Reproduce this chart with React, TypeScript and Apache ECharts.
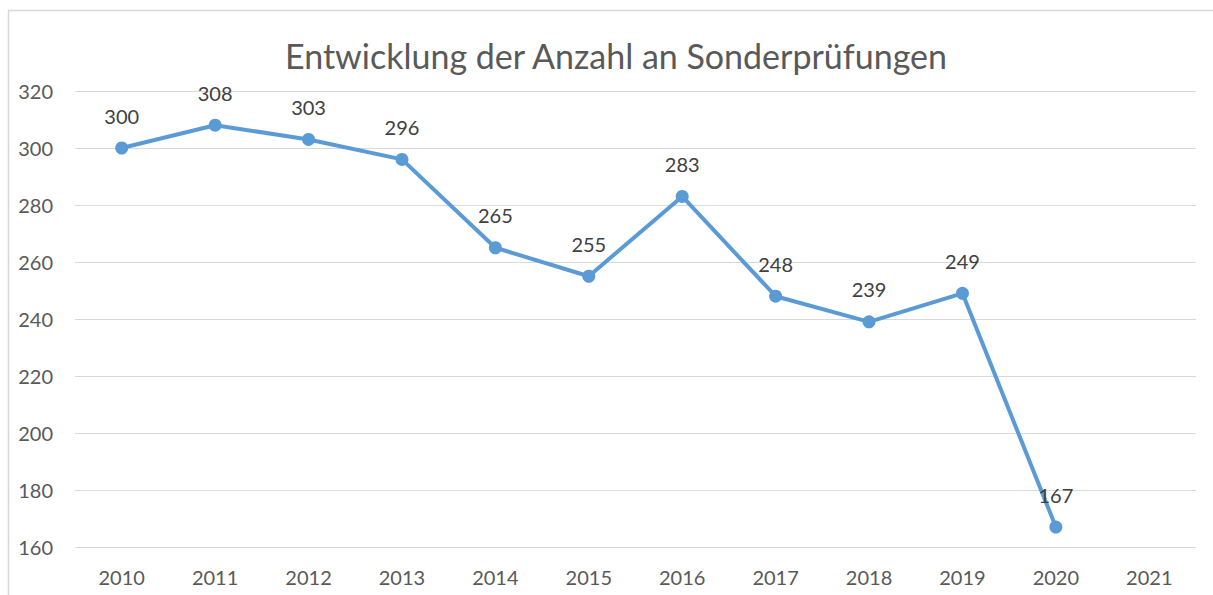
import React, { useEffect, useRef } from "react";
import * as echarts from "echarts";

const title = "Entwicklung der Anzahl an Sonderprüfungen";
const years = ["2010", "2011", "2012", "2013", "2014", "2015", "2016", "2017", "2018", "2019", "2020", "2021"];
const counts: (number | null)[] = [300, 308, 303, 296, 265, 255, 283, 248, 239, 249, 167, null];
const yMin = 160;
const yMax = 320;
const yStep = 20;

export default function App() {
  const ref = useRef<HTMLDivElement>(null);
  useEffect(() => {
    if (!ref.current) return;
    const chart = echarts.init(ref.current, undefined, { renderer: "svg" });
    const font = "Lato, 'Open Sans', sans-serif";
    chart.setOption({
      animation: false,
      backgroundColor: "#ffffff",
      title: {
        text: title,
        left: 280,
        top: 33,
        textStyle: { fontFamily: font, fontSize: 34, fontWeight: "normal", color: "#595959" },
      },
      graphic: [
        {
          type: "rect",
          shape: { x: 8.5, y: 10.5, width: 1220, height: 600 },
          style: { fill: "none", stroke: "#d9d9d9", lineWidth: 1.5 },
          silent: true,
        },
      ],
      grid: { left: 75, right: 17, top: 91, bottom: 48 },
      xAxis: {
        type: "category",
        data: years,
        boundaryGap: true,
        axisLine: { show: false },
        axisTick: { show: false },
        axisLabel: { margin: 20, fontFamily: font, fontSize: 20, color: "#595959" },
      },
      yAxis: {
        type: "value",
        min: yMin,
        max: yMax,
        interval: yStep,
        axisLine: { show: false },
        axisTick: { show: false },
        axisLabel: { margin: 22, fontFamily: font, fontSize: 20, color: "#595959" },
        splitLine: { lineStyle: { color: "#d9d9d9", width: 1 } },
      },
      series: [
        {
          type: "line",
          data: counts,
          symbol: "circle",
          symbolSize: 13,
          itemStyle: { color: "#5b9bd5" },
          lineStyle: { color: "#5b9bd5", width: 4 },
          label: {
            show: true,
            position: "top",
            distance: 16,
            fontFamily: font,
            fontSize: 20,
            color: "#404040",
          },
        },
      ],
    });
    return () => chart.dispose();
  }, []);
  return (
    <div
      ref={ref}
      style={{ position: "fixed", left: 0, top: 0, width: 1213, height: 595 }}
    />
  );
}
